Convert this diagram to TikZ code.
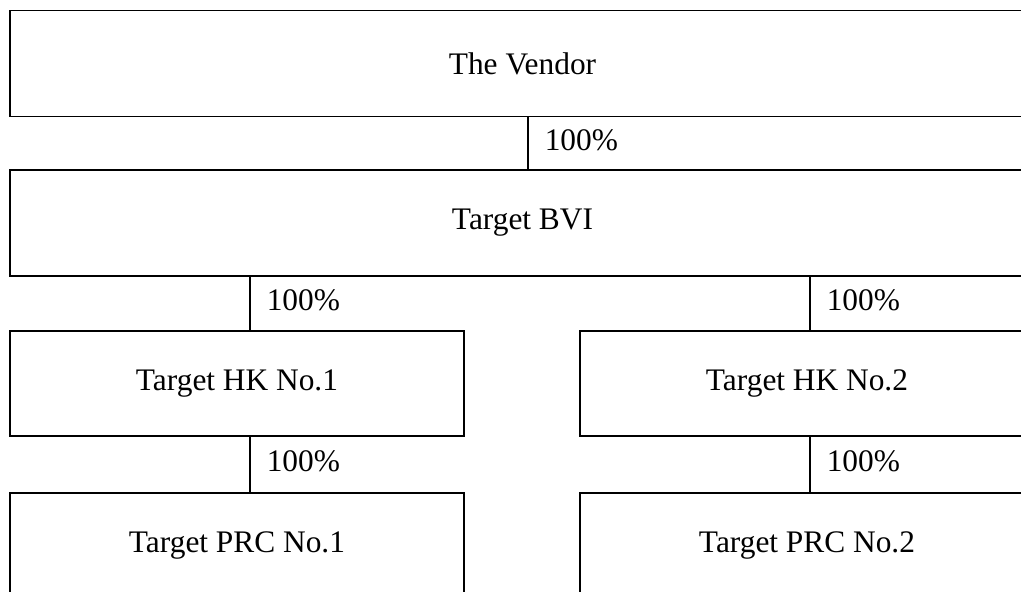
\documentclass[tikz,border=0pt]{standalone}
\usepackage{fontspec}
\setmainfont{Liberation Serif}
\tikzset{
    company/.style = {draw, rectangle, inner sep = 0pt, minimum height = 106bp},
    share/.style = {anchor = west, inner sep = 0pt, xshift = 16bp, yshift = 3bp}
}
\begin{document}
\begin{tikzpicture}[x = 1bp, y = -1bp, line width = 1.5bp, font = \fontsize{31.5}{37}\selectfont]
    \path[use as bounding box, clip] (0, 0) rectangle (1021, 592);
    % Top companies
    \node [company, minimum width = 1025bp] (vendor) at (522.5, 63.5) {The Vendor};
    \node [company, minimum width = 1025bp] (bvi) at (522.5, 223) {Target BVI};
    \draw ([xshift = 5.5bp] vendor.south) -- node [share] {100\%} ([xshift = 5.5bp] vendor.south |- bvi.north);
    % Two branches
    \foreach\n/\x/\dx in {1/237/13, 2/807/3} {
        \node [company, minimum width = 454bp, minimum height = 105bp] (hk\n) at (\x, 383.5) {Target HK No.\n};
        \node [company, minimum width = 454bp, minimum height = 105bp] (prc\n) at (\x, 545.5) {Target PRC No.\n};
        \draw ([xshift = \dx bp] hk\n.north) -- node [share] {100\%} ([xshift = \dx bp] hk\n.north |- bvi.south);
        \draw ([xshift = \dx bp] hk\n.south) -- node [share] {100\%} ([xshift = \dx bp] prc\n.north);
    }
\end{tikzpicture}
\end{document}
